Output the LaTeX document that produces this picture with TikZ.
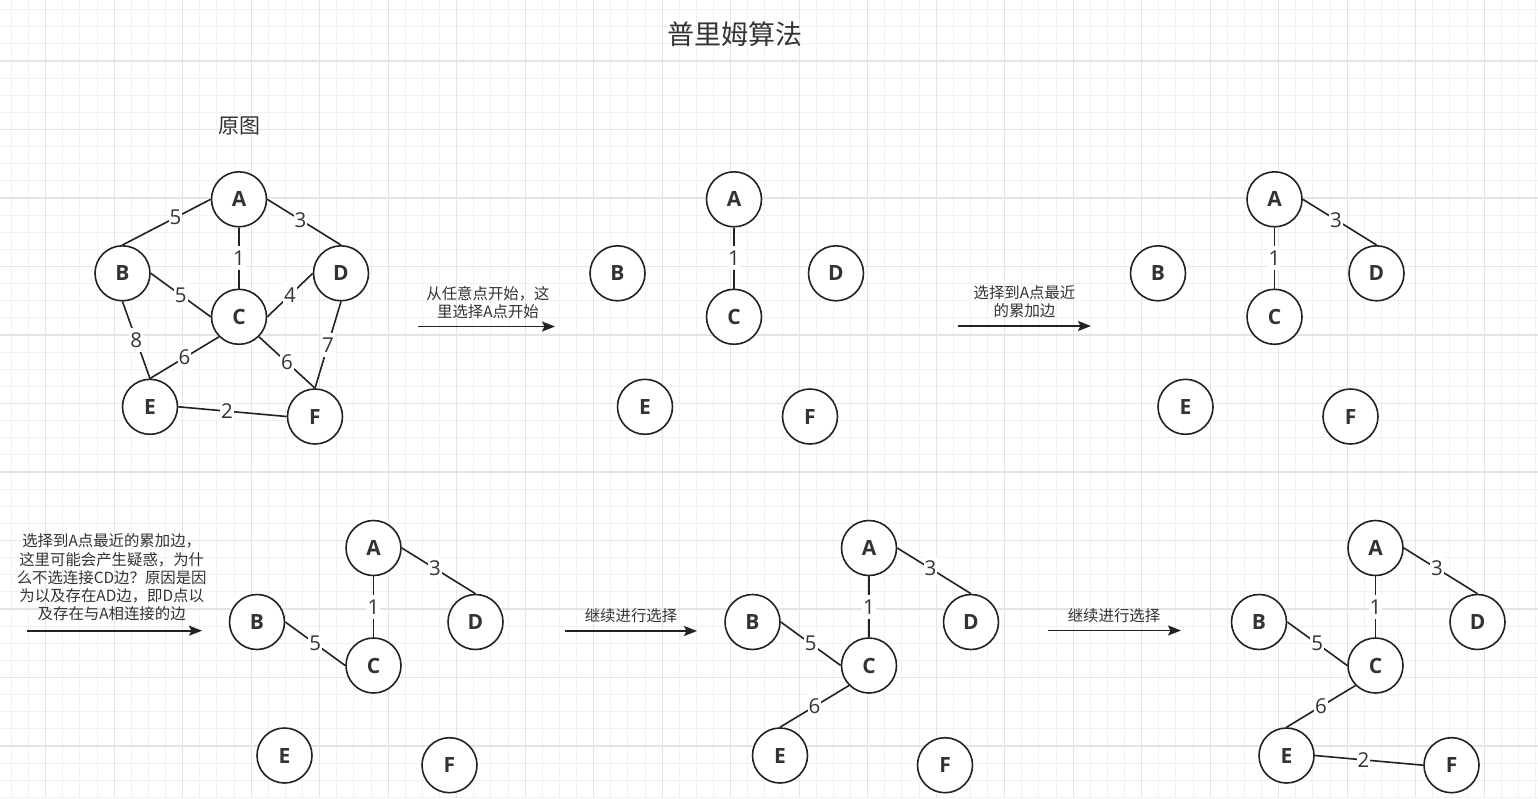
\documentclass[tikz,border=0pt]{standalone}
\usepackage{fontspec}
\setmainfont{Noto Sans CJK SC}
\newfontfamily\latfont{Open Sans}
\usetikzlibrary{arrows.meta}
\definecolor{gridminor}{RGB}{241,241,241}
\definecolor{gridmajor}{RGB}{228,228,228}
\definecolor{ink}{RGB}{34,34,34}
\definecolor{txt}{RGB}{51,51,51}
\tikzset{
  vtx/.style={
    draw=ink, circle, line width=1.6pt, fill=white,
    minimum size=55pt, inner sep=0pt,
    font=\latfont\bfseries\fontsize{21}{25}\selectfont, text=txt
  },
  edg/.style={draw=ink, line width=1.6pt},
  wlbl/.style={
    fill=white, inner sep=1pt, minimum height=24pt,
    font=\latfont\fontsize{20.5}{24}\selectfont, text=txt
  },
  note/.style={
    align=center, text=txt,
    font=\fontsize{15.4}{18.3}\selectfont
  },
  harr/.style={-{Stealth[length=13pt, width=10pt, inset=2.5pt]}, line width=1.6pt, draw=ink},
  gminor/.style={draw=gridminor, line width=1pt},
  gmajor/.style={draw=gridmajor, line width=1.2pt},
}
\begin{document}
\begin{tikzpicture}[x=1pt, y=-1pt]
  \useasboundingbox (0,0) rectangle (1538,798);
  \fill[white] (0,0) rectangle (1538,798);
  \foreach \i in {0,...,89}{
    \draw[gminor] ({11.45+17.125*\i},0) -- ({11.45+17.125*\i},798);
  }
  \foreach \j in {0,...,46}{
    \draw[gminor] (0,{9.6+17.125*\j}) -- (1538,{9.6+17.125*\j});
  }
  \foreach \i in {0,...,22}{
    \draw[gmajor] ({45.7+68.5*\i},0) -- ({45.7+68.5*\i},798);
  }
  \foreach \j in {0,...,11}{
    \draw[gmajor] (0,{61+68.5*\j}) -- (1538,{61+68.5*\j});
  }

  \node[text=txt, font=\fontsize{27}{32}\selectfont] (title) at (735,34) {普里姆算法};
  \node[text=txt, font=\fontsize{21}{25}\selectfont] (orig) at (239,126) {原图};

  \foreach \pn/\ox/\oy in
    {p/239/199.3, q/734/199.3, r/1274.5/199.3,
     s/373.5/548, t/869/548, u/1375.5/548}{
    \foreach \vn/\dx/\dy in
      {A/0/0, B/-116.5/74, C/0/117.5, D/102/74, E/-89/207.5, F/76/217.2}{
      \node[vtx] (\pn\vn) at (\ox+\dx, \oy+\dy) {\vn};
    }
  }

  % original graph
  \draw[edg] (pA.west) -- node[wlbl, pos=0.4] {5} (pB.north);
  \draw[edg] (pA.east) -- node[wlbl, pos=0.45] {3} (pD.north);
  \draw[edg] (pA.south) -- node[wlbl] {1} (pC.north);
  \draw[edg] (pB.east) -- node[wlbl] {5} (pC.west);
  \draw[edg] (pC.east) -- node[wlbl] {4} (pD.west);
  \draw[edg] (pB.south) -- node[wlbl] {8} (pE.north);
  \draw[edg] (pC.south west) -- node[wlbl] {6} (pE.north);
  \draw[edg] (pC.south east) -- node[wlbl] {6} (pF.north);
  \draw[edg] (pD.south) -- node[wlbl] {7} (pF.north);
  \draw[edg] (pE.east) -- node[wlbl, pos=0.45] {2} (pF.west);

  % steps
  \draw[edg] (qA.south) -- node[wlbl] {1} (qC.north);

  \draw[edg] (rA.south) -- node[wlbl] {1} (rC.north);
  \draw[edg] (rA.east) -- node[wlbl, pos=0.45] {3} (rD.north);

  \draw[edg] (sA.south) -- node[wlbl] {1} (sC.north);
  \draw[edg] (sA.east) -- node[wlbl, pos=0.45] {3} (sD.north);
  \draw[edg] (sB.east) -- node[wlbl] {5} (sC.west);

  \draw[edg] (tA.south) -- node[wlbl] {1} (tC.north);
  \draw[edg] (tA.east) -- node[wlbl, pos=0.45] {3} (tD.north);
  \draw[edg] (tB.east) -- node[wlbl] {5} (tC.west);
  \draw[edg] (tC.south west) -- node[wlbl] {6} (tE.north);

  \draw[edg] (uA.south) -- node[wlbl] {1} (uC.north);
  \draw[edg] (uA.east) -- node[wlbl, pos=0.45] {3} (uD.north);
  \draw[edg] (uB.east) -- node[wlbl] {5} (uC.west);
  \draw[edg] (uC.south west) -- node[wlbl] {6} (uE.north);
  \draw[edg] (uE.east) -- node[wlbl, pos=0.45] {2} (uF.west);

  % transitions
  \coordinate (s1) at (418,326.5);
  \coordinate (t1) at (555,326.5);
  \coordinate (s2) at (958,326);
  \coordinate (t2) at (1091,326);
  \coordinate (s3) at (27,630.7);
  \coordinate (t3) at (202,630.7);
  \coordinate (s4) at (565,631);
  \coordinate (t4) at (697,631);
  \coordinate (s5) at (1048,630.5);
  \coordinate (t5) at (1181,630.5);
  \draw[harr] (s1) -- (t1);
  \draw[harr] (s2) -- (t2);
  \draw[harr] (s3) -- (t3);
  \draw[harr] (s4) -- (t4);
  \draw[harr] (s5) -- (t5);
  \node[note] (n1) at (488,302.5) {从任意点开始，这\\里选择A点开始};
  \node[note] (n2) at (1024.5,302) {选择到A点最近\\的累加边};
  \node[note] (n3) at (111.7,577.5)
    {选择到A点最近的累加边，\\这里可能会产生疑惑，为什\\么不选连接CD边？原因是因\\为以及存在AD边，即D点以\\及存在与A相连接的边};
  \node[note] (n4) at (631,616) {继续进行选择};
  \node[note] (n5) at (1114,616) {继续进行选择};
\end{tikzpicture}
\end{document}
